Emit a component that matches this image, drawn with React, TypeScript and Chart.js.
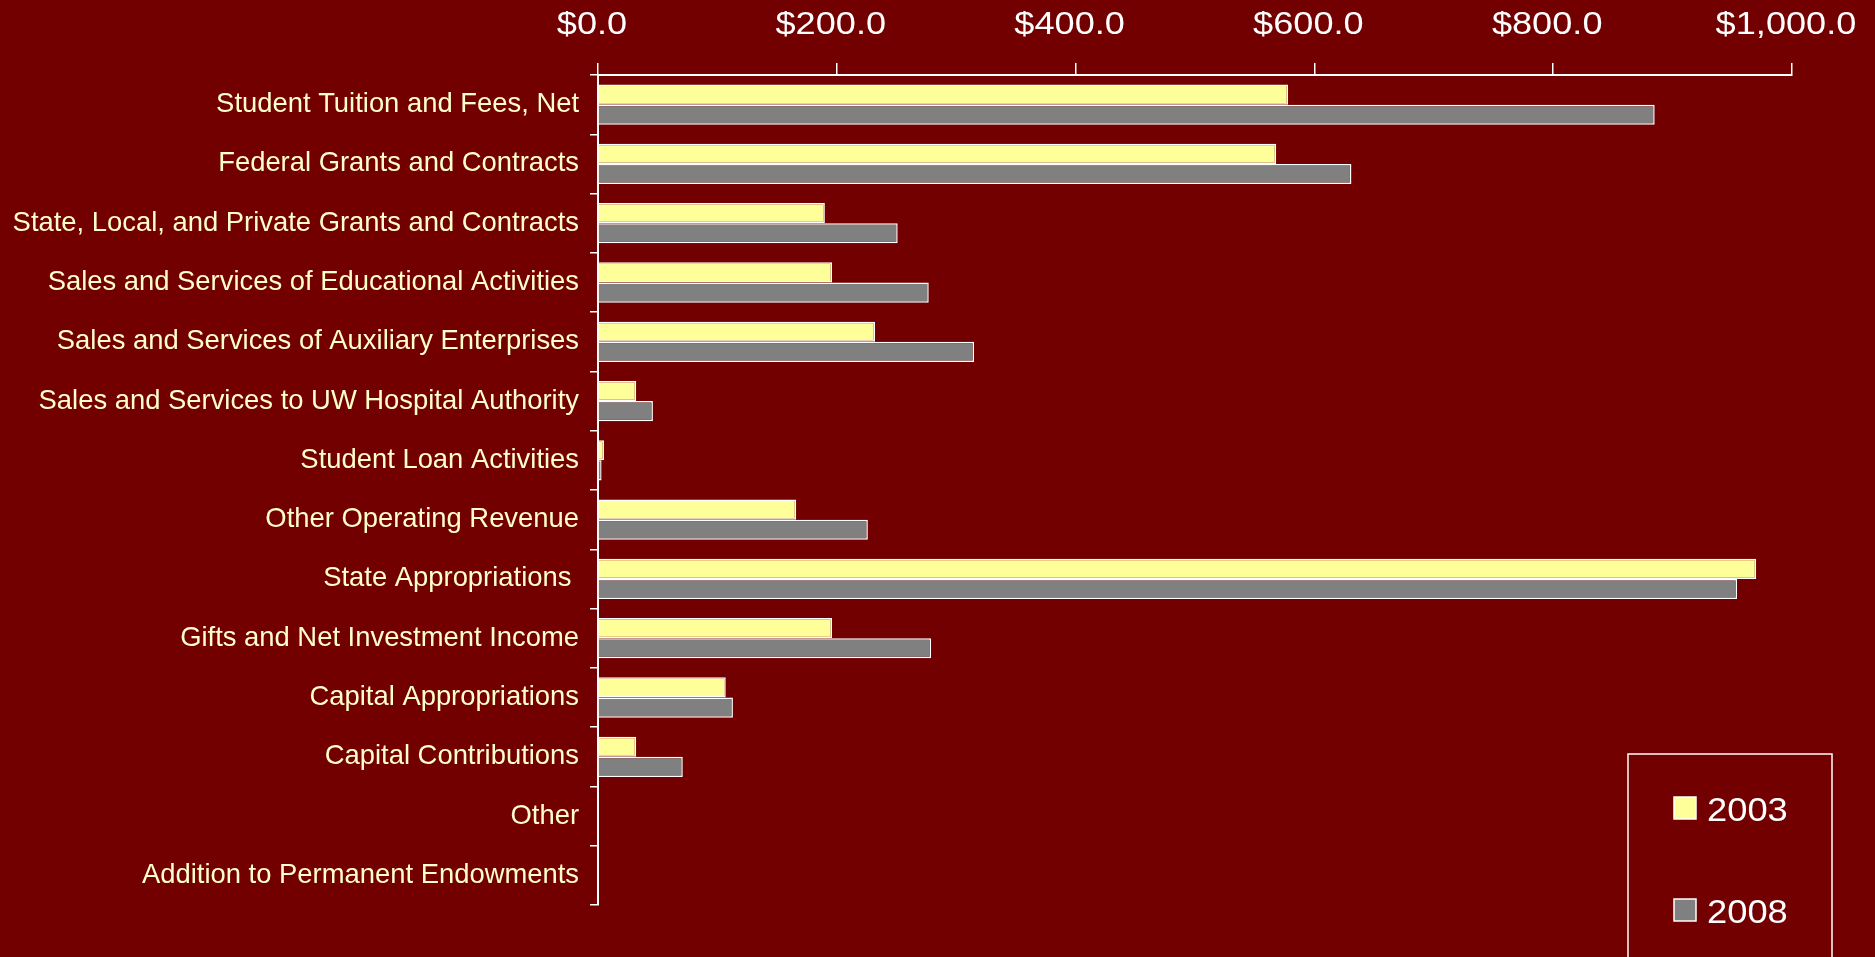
import React, { useEffect, useRef } from "react";
import { Chart, registerables } from "chart.js";

Chart.register(...registerables);

const categories = [
  "Student Tuition and Fees, Net",
  "Federal Grants and Contracts",
  "State, Local, and Private Grants and Contracts",
  "Sales and Services of Educational Activities",
  "Sales and Services of Auxiliary Enterprises",
  "Sales and Services to UW Hospital Authority",
  "Student Loan Activities",
  "Other Operating Revenue",
  "State Appropriations ",
  "Gifts and Net Investment Income",
  "Capital Appropriations",
  "Capital Contributions",
  "Other",
  "Addition to Permanent Endowments",
];

const values2003 = [578, 568, 190, 196, 232, 32, 5, 166, 970, 196, 107, 32, 0, 0];
const values2008 = [885, 631, 251, 277, 315, 46, 3, 226, 954, 279, 113, 71, 0, 0];

const seriesLabels = ["2003", "2008"];
const xTicks = [0, 200, 400, 600, 800, 1000];

const BG = "#720000";
const FONT = "'Liberation Sans', Arial, sans-serif";

const fmtMoney = (v: any) =>
  "$" +
  Number(v).toLocaleString("en-US", {
    minimumFractionDigits: 1,
    maximumFractionDigits: 1,
  });

// Draws the (horizontally stretched) top tick labels at the scale's own tick positions,
// and the boxed legend from the datasets.
const overlayPlugin = {
  id: "overlay",
  afterDraw(chart: any) {
    const ctx = chart.ctx;
    const xs = chart.scales.x;
    ctx.save();
    ctx.fillStyle = "#ffffff";
    ctx.font = `32px ${FONT}`;
    ctx.textAlign = "center";
    ctx.textBaseline = "alphabetic";
    xs.ticks.forEach((t: any) => {
      const px = xs.getPixelForValue(t.value);
      ctx.save();
      ctx.translate(px - 6, 34);
      ctx.scale(1.13, 1);
      ctx.fillText(fmtMoney(t.value), 0, 0);
      ctx.restore();
    });
    ctx.restore();

    ctx.save();
    ctx.strokeStyle = "#ffffff";
    ctx.lineWidth = 1.5;
    ctx.strokeRect(1628, 754, 204, 230);
    chart.data.datasets.forEach((ds: any, i: number) => {
      const top = 797 + i * 102;
      ctx.fillStyle = ds.backgroundColor;
      ctx.fillRect(1674, top, 22, 22);
      ctx.strokeStyle = "#ffffff";
      ctx.lineWidth = 1.5;
      ctx.strokeRect(1674, top, 22, 22);
      ctx.fillStyle = "#ffffff";
      ctx.font = `33px ${FONT}`;
      ctx.textBaseline = "alphabetic";
      ctx.textAlign = "left";
      ctx.save();
      ctx.translate(1707, top + 24);
      ctx.scale(1.1, 1);
      ctx.fillText(ds.label, 0, 0);
      ctx.restore();
    });
    ctx.restore();
  },
};

export default function App() {
  const ref = useRef<HTMLCanvasElement>(null);
  useEffect(() => {
    document.body.style.margin = "0";
    document.body.style.background = BG;
    const chart = new Chart(ref.current!, {
      type: "bar",
      data: {
        labels: categories,
        datasets: [
          {
            label: seriesLabels[0],
            data: values2003,
            backgroundColor: "#FFFF99",
            borderColor: "#ffffff",
            borderWidth: 1.5,
            categoryPercentage: 0.68,
            barPercentage: 1,
          },
          {
            label: seriesLabels[1],
            data: values2008,
            backgroundColor: "#808080",
            borderColor: "#ffffff",
            borderWidth: 1.5,
            categoryPercentage: 0.68,
            barPercentage: 1,
          },
        ],
      },
      options: {
        indexAxis: "y",
        animation: false,
        responsive: false,
        maintainAspectRatio: false,
        layout: { padding: { left: 0, right: 83, top: 0, bottom: 52 } },
        plugins: { legend: { display: false }, tooltip: { enabled: false } },
        scales: {
          x: {
            position: "top",
            min: 0,
            max: 1000,
            afterBuildTicks: (scale: any) => {
              scale.ticks = xTicks.map((v) => ({ value: v }));
            },
            afterFit: (scale: any) => {
              scale.height = 75;
            },
            grid: {
              drawOnChartArea: false,
              drawTicks: true,
              tickLength: 12,
              color: "#ffffff",
              lineWidth: 1.5,
            },
            border: { display: true, color: "#ffffff", width: 2 },
            ticks: {
              color: "rgba(0,0,0,0)",
              font: { family: FONT, size: 32 },
              padding: 20,
              maxRotation: 0,
              callback: fmtMoney,
            },
          },
          y: {
            afterFit: (scale: any) => {
              scale.width = 598;
            },
            grid: {
              offset: true,
              drawOnChartArea: false,
              drawTicks: true,
              tickLength: 8,
              color: "#ffffff",
              lineWidth: 1.5,
            },
            border: { display: true, color: "#ffffff", width: 2 },
            ticks: {
              color: "#FFFFCC",
              font: { family: FONT, size: 27.4 },
              padding: 11,
              autoSkip: false,
            },
          },
        },
      },
      plugins: [overlayPlugin],
    });
    return () => chart.destroy();
  }, []);
  return (
    <div style={{ width: 1875, height: 957, background: BG }}>
      <canvas ref={ref} width={1875} height={957} style={{ display: "block" }} />
    </div>
  );
}
